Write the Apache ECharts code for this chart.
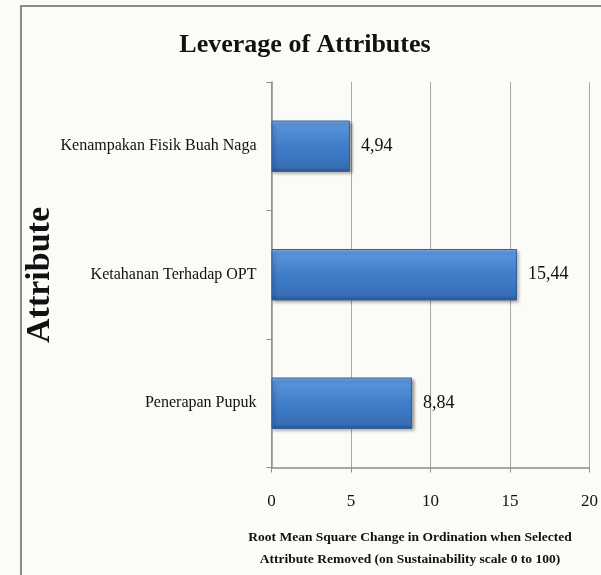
<!DOCTYPE html>
<html>
<head>
<meta charset="utf-8">
<script src="https://cdn.jsdelivr.net/npm/echarts@6/dist/echarts.min.js"></script>
<style>
  html, body { margin: 0; padding: 0; background: #fbfbf7; }
  #chart { width: 601px; height: 575px; }
</style>
</head>
<body>
<div id="chart"></div>
<script>
// Attributes, listed bottom to top as on the category axis
const attributes = ['Penerapan Pupuk', 'Ketahanan Terhadap OPT', 'Kenampakan Fisik Buah Naga'];
// RMS change in ordination when each attribute is removed
const leverageValues = [8.84, 15.44, 4.94];
// Value axis ticks
const xTicks = [0, 5, 10, 15, 20];

const serif = '"Liberation Serif", "Times New Roman", serif';

const chart = echarts.init(document.getElementById('chart'), null, { renderer: 'canvas' });

const barColor = new echarts.graphic.LinearGradient(0, 0, 0, 1, [
  { offset: 0, color: '#8fbcee' },
  { offset: 0.08, color: '#5a93da' },
  { offset: 0.5, color: '#407dc9' },
  { offset: 0.9, color: '#376fb7' },
  { offset: 1, color: '#28548d' }
]);

chart.setOption({
  backgroundColor: '#fbfbf7',
  animation: false,
  title: [
    {
      text: 'Leverage of Attributes',
      left: 300, top: 27, textAlign: 'center',
      textStyle: { fontFamily: serif, fontWeight: 'bold', fontSize: 26, color: '#111' }
    },
    {
      text: 'Root Mean Square Change in Ordination when Selected\nAttribute Removed (on Sustainability scale 0 to 100)',
      left: 405, top: 522, textAlign: 'center',
      textStyle: { fontFamily: serif, fontWeight: 'bold', fontSize: 13.5, lineHeight: 22, color: '#111' }
    }
  ],
  graphic: [
    {
      // chart frame (top and left edges)
      type: 'polyline',
      shape: { points: [[21, 575], [21, 6], [601, 6]] },
      style: { stroke: '#8a8a8a', lineWidth: 2, fill: null },
      silent: true
    },
    {
      // vertical axis title
      type: 'text',
      x: 40, y: 275,
      rotation: Math.PI / 2,
      style: {
        text: 'Attribute',
        font: 'bold 34px ' + serif,
        fill: '#111',
        align: 'center',
        verticalAlign: 'middle'
      },
      silent: true
    }
  ],
  grid: { left: 271.5, right: 8.5, top: 82, bottom: 107.5, containLabel: false },
  xAxis: {
    type: 'value',
    min: xTicks[0],
    max: xTicks[xTicks.length - 1],
    interval: xTicks[1] - xTicks[0],
    axisLine: { show: true, lineStyle: { color: '#8c8c8c', width: 1.5 } },
    axisTick: { show: true, length: 5, lineStyle: { color: '#8c8c8c' } },
    axisLabel: { margin: 26, fontFamily: serif, fontSize: 17, color: '#111' },
    splitLine: { show: true, lineStyle: { color: '#a8a8a8', width: 1 } }
  },
  yAxis: {
    type: 'category',
    data: attributes,
    axisLine: { show: true, lineStyle: { color: '#8c8c8c', width: 1.5 } },
    axisTick: { show: true, length: 5, lineStyle: { color: '#8c8c8c' } },
    axisLabel: { margin: 15, fontFamily: serif, fontSize: 16, color: '#111' },
    splitLine: { show: false }
  },
  series: [
    {
      type: 'bar',
      data: leverageValues,
      barCategoryGap: '60%',
      itemStyle: {
        color: barColor,
        borderColor: '#2f619f',
        borderWidth: 1,
        shadowColor: 'rgba(0,0,0,0.35)',
        shadowBlur: 3,
        shadowOffsetX: 2,
        shadowOffsetY: 2
      },
      label: {
        show: true,
        position: 'right',
        distance: 11,
        fontFamily: serif,
        fontSize: 18,
        color: '#111',
        formatter: p => p.value.toFixed(2).replace('.', ',')
      }
    }
  ]
});
</script>
</body>
</html>
